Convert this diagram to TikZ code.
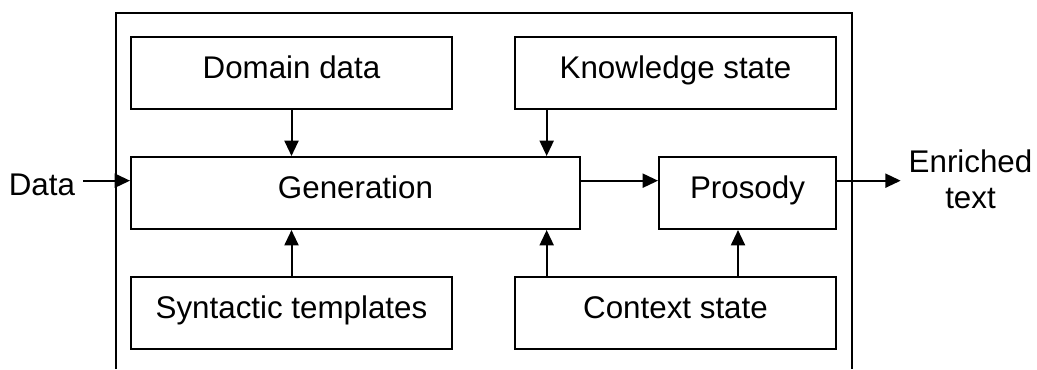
\documentclass[tikz,border=0pt]{standalone}
\usepackage{fontspec}
\setmainfont{Liberation Sans}
\usetikzlibrary{arrows.meta}
\begin{document}
\begin{tikzpicture}[x=0.75pt, y=-0.75pt,
    line width=1.5pt,
    every node/.style={font=\fontsize{23.5pt}{27pt}\selectfont},
    blk/.style={draw, rectangle, inner sep=0pt, line width=1.5pt,
                text height=16pt, text depth=8pt,
                minimum width=#1, minimum height=54pt},
    blk/.default=240.75pt,
    arr/.style={-{Triangle[length=11.5pt, width=10.5pt]}},
    lbl/.style={inner sep=0pt}]
  \useasboundingbox (0,0) rectangle (1037,369);

  % enclosing frame, open at the bottom
  \draw (116,369) -- (116,13) -- (851.7,13) -- (851.7,369);

  % blocks
  \node[blk] (dom)  at (291.5,73)  {Domain data};
  \node[blk] (know) at (675.5,73)  {Knowledge state};
  \node[blk=336.75pt] (gen)  at (355.5,193) {Generation};
  \node[blk=132.75pt] (pros) at (747.5,193) {Prosody};
  \node[blk] (syn)  at (291.5,313) {Syntactic templates};
  \node[blk] (ctx)  at (675.5,313) {Context state};

  % external labels
  \node[lbl, anchor=base east] (data) at (76,195) {Data};
  \node[lbl, anchor=base, align=center] (enr) at (970.5,208) {Enriched\\text};

  % row of the horizontal flow
  \coordinate (row) at ([yshift=-18.5pt]gen.north west);

  % connectors
  \draw[arr, shorten <=5.25pt] (data.east |- row) -- (row);
  \draw[arr] (gen.east |- row) -- (pros.west |- row);
  \draw[arr, shorten >=5.25pt] (pros.east |- row) -- (enr.west |- row);

  \draw[arr] (dom.south) -- (dom.south |- gen.north);
  \coordinate (kdrop) at ([xshift=24.5pt]know.south west);
  \draw[arr] (kdrop) -- (kdrop |- gen.north);

  \draw[arr] (syn.north) -- (syn.north |- gen.south);
  \coordinate (cleft)  at ([xshift=24.5pt]ctx.north west);
  \coordinate (cright) at ([xshift=168pt]ctx.north west);
  \draw[arr] (cleft) -- (cleft |- gen.south);
  \draw[arr] (cright) -- (cright |- pros.south);
\end{tikzpicture}
\end{document}
